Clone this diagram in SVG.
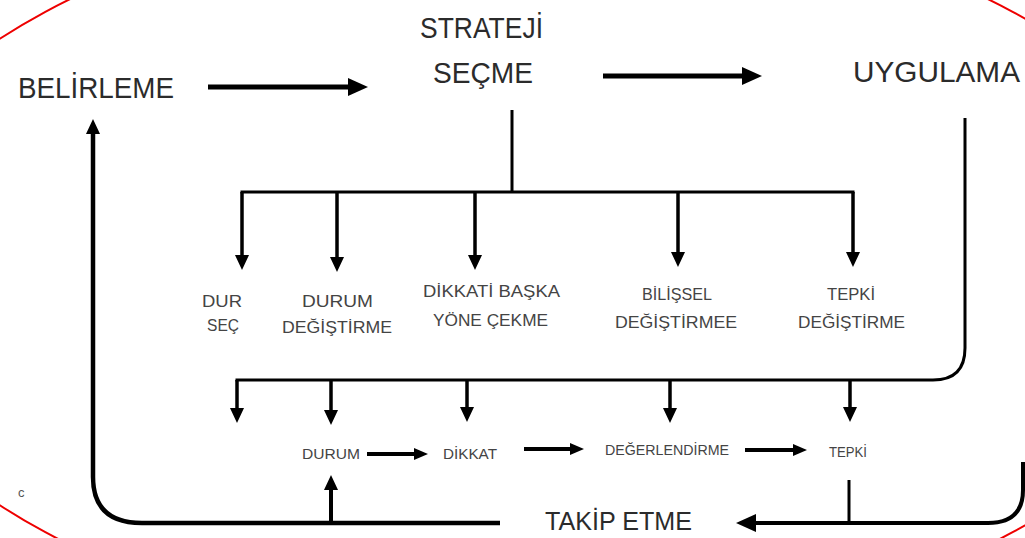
<svg xmlns="http://www.w3.org/2000/svg" width="1025" height="538" viewBox="0 0 1025 538">
<style>
text{font-family:"Liberation Sans",Arial,sans-serif;}
.t{fill:#2b2b2b;font-size:30px;}
.m{fill:#444;font-size:17px;}
.s{fill:#444;font-size:14px;}
.ln{fill:none;stroke:#000;stroke-linecap:butt;}
</style>
<defs>
<marker id="hBig" markerUnits="userSpaceOnUse" viewBox="0 0 20 20" markerWidth="20" markerHeight="20" refX="0" refY="10" orient="auto"><path d="M0,1 L20,10 L0,19 z" fill="#000"/></marker>
<marker id="hSm" markerUnits="userSpaceOnUse" viewBox="0 0 15 14" markerWidth="15" markerHeight="14" refX="0" refY="7" orient="auto"><path d="M0,0 L15,7 L0,14 z" fill="#000"/></marker>
<marker id="hMid" markerUnits="userSpaceOnUse" viewBox="0 0 14 12" markerWidth="14" markerHeight="12" refX="0" refY="6" orient="auto"><path d="M0,0 L14,6 L0,12 z" fill="#000"/></marker>
</defs>
<rect width="1025" height="538" fill="#fff"/>
<ellipse cx="529" cy="272" rx="684" ry="368" fill="none" stroke="#e00" stroke-width="2"/>
<text x="18" y="497" font-size="13" fill="#555" style="font-size:13px">c</text>

<g id="connectors">
<line class="ln" x1="208" y1="87" x2="348" y2="87" stroke-width="5" marker-end="url(#hBig)"/>
<line class="ln" x1="603" y1="76" x2="742" y2="76" stroke-width="5" marker-end="url(#hBig)"/>
<line class="ln" x1="512" y1="110" x2="512" y2="192" stroke-width="3"/>
<line class="ln" x1="240.5" y1="192" x2="854.5" y2="192" stroke-width="3"/>
<line class="ln" x1="242" y1="192" x2="242" y2="255" stroke-width="3.5" marker-end="url(#hSm)"/>
<line class="ln" x1="337" y1="192" x2="337" y2="257" stroke-width="3.5" marker-end="url(#hSm)"/>
<line class="ln" x1="475" y1="192" x2="475" y2="255" stroke-width="3.5" marker-end="url(#hSm)"/>
<line class="ln" x1="678" y1="192" x2="678" y2="252" stroke-width="3.5" marker-end="url(#hSm)"/>
<line class="ln" x1="853" y1="192" x2="853" y2="252" stroke-width="3.5" marker-end="url(#hSm)"/>
<path class="ln" d="M965,118 V348 Q965,380 933,380 H235.5" stroke-width="3"/>
<line class="ln" x1="237" y1="380" x2="237" y2="408" stroke-width="3.5" marker-end="url(#hSm)"/>
<line class="ln" x1="331" y1="380" x2="331" y2="410" stroke-width="3.5" marker-end="url(#hSm)"/>
<line class="ln" x1="467" y1="380" x2="467" y2="407" stroke-width="3.5" marker-end="url(#hSm)"/>
<line class="ln" x1="670" y1="380" x2="670" y2="408" stroke-width="3.5" marker-end="url(#hSm)"/>
<line class="ln" x1="850" y1="380" x2="850" y2="407" stroke-width="3.5" marker-end="url(#hSm)"/>
<line class="ln" x1="367" y1="454" x2="414" y2="454" stroke-width="4" marker-end="url(#hMid)"/>
<line class="ln" x1="524" y1="449" x2="570" y2="449" stroke-width="4" marker-end="url(#hMid)"/>
<line class="ln" x1="745" y1="450" x2="793" y2="450" stroke-width="4" marker-end="url(#hMid)"/>
<line class="ln" x1="849" y1="480" x2="849" y2="523" stroke-width="3"/>
<path class="ln" d="M1023,462 V490 Q1023,523 988,523 H756" stroke-width="4" marker-end="url(#hBig)"/>
<path class="ln" d="M500,523 H142 Q93,523 93,477 V134" stroke-width="4.5" marker-end="url(#hSm)"/>
<line class="ln" x1="331" y1="523" x2="331" y2="490" stroke-width="4" marker-end="url(#hSm)"/>
</g>

<g id="belirleme"><text class="t" x="18" y="98" textLength="156" lengthAdjust="spacingAndGlyphs">BELİRLEME</text></g>
<g id="strateji-secme">
<text class="t" x="420" y="38" style="font-size:29px" textLength="123" lengthAdjust="spacingAndGlyphs">STRATEJİ</text>
<text class="t" x="433" y="83" style="font-size:29px" textLength="100" lengthAdjust="spacingAndGlyphs">SEÇME</text>
</g>
<g id="uygulama"><text class="t" x="853" y="82" textLength="167" lengthAdjust="spacingAndGlyphs">UYGULAMA</text></g>

<g id="dur-sec">
<text class="m" x="202" y="307" textLength="40" lengthAdjust="spacingAndGlyphs">DUR</text>
<text class="m" x="207" y="331" textLength="32" lengthAdjust="spacingAndGlyphs">SEÇ</text>
</g>
<g id="durum-degistirme">
<text class="m" x="302" y="307" textLength="71" lengthAdjust="spacingAndGlyphs">DURUM</text>
<text class="m" x="282" y="333" textLength="110" lengthAdjust="spacingAndGlyphs">DEĞİŞTİRME</text>
</g>
<g id="dikkati-baska">
<text class="m" x="423" y="297" textLength="137" lengthAdjust="spacingAndGlyphs">DİKKATİ BAŞKA</text>
<text class="m" x="433" y="326" textLength="115" lengthAdjust="spacingAndGlyphs">YÖNE ÇEKME</text>
</g>
<g id="bilissel">
<text class="m" x="642" y="300" textLength="70" lengthAdjust="spacingAndGlyphs">BİLİŞSEL</text>
<text class="m" x="615" y="328" textLength="122" lengthAdjust="spacingAndGlyphs">DEĞİŞTİRMEE</text>
</g>
<g id="tepki-degistirme">
<text class="m" x="827" y="300" textLength="48" lengthAdjust="spacingAndGlyphs">TEPKİ</text>
<text class="m" x="798" y="328" textLength="107" lengthAdjust="spacingAndGlyphs">DEĞİŞTİRME</text>
</g>

<g id="durum"><text class="s" x="302" y="459" textLength="58" lengthAdjust="spacingAndGlyphs">DURUM</text></g>
<g id="dikkat"><text class="s" x="443" y="459" textLength="54" lengthAdjust="spacingAndGlyphs">DİKKAT</text></g>
<g id="degerlendirme"><text class="s" x="605" y="455" textLength="124" lengthAdjust="spacingAndGlyphs">DEĞERLENDİRME</text></g>
<g id="tepki"><text class="s" x="829" y="457" textLength="38" lengthAdjust="spacingAndGlyphs">TEPKİ</text></g>

<g id="takip-etme"><text class="t" x="545" y="530" style="font-size:25px" textLength="147" lengthAdjust="spacingAndGlyphs">TAKİP ETME</text></g>
</svg>
